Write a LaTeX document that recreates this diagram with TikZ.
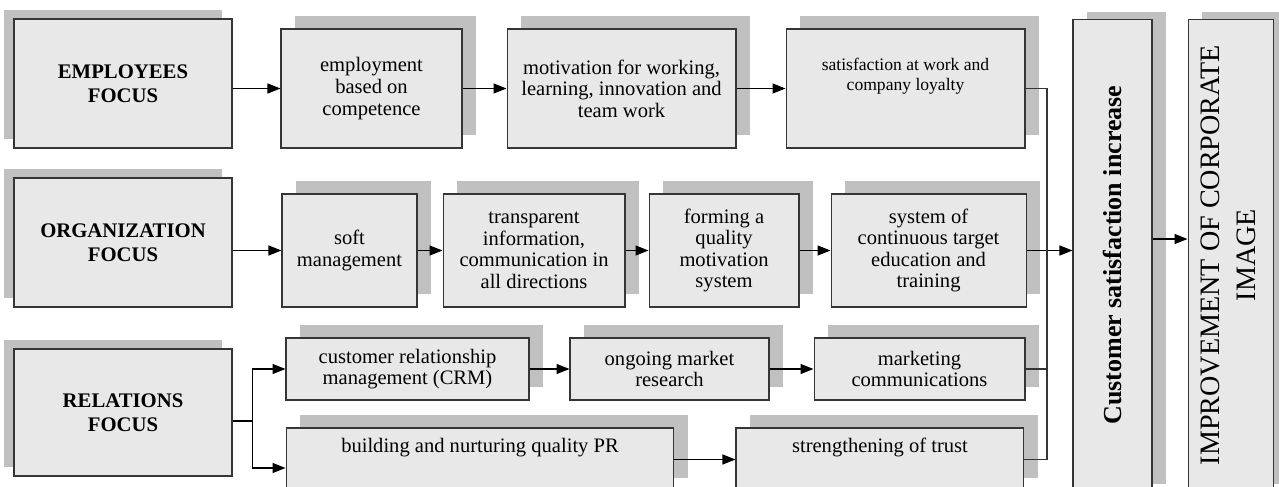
\documentclass[tikz,border=0pt]{standalone}
\usepackage{fontspec}
\usepackage{graphicx}
\setmainfont{Liberation Serif}
\usetikzlibrary{arrows.meta,positioning,shadows}
\definecolor{BoxFill}{HTML}{E8E8E8}
\definecolor{ShadowGray}{HTML}{C0C0C0}
\definecolor{EdgeGray}{HTML}{353535}

\begin{document}
\begin{tikzpicture}[x=0.02cm,y=-0.02cm,
  every node/.style={align=center,font=\fontsize{11.7}{12.3}\selectfont},
  focus/.style={draw=EdgeGray,fill=BoxFill,line width=0.6pt,minimum width=4.36cm,minimum height=2.58cm,inner sep=2pt,
    font=\fontsize{11.8}{13.8}\selectfont\bfseries,
    general shadow={fill=ShadowGray,shadow xshift=-0.2cm,shadow yshift=0.18cm}},
  stepbox/.style={draw=EdgeGray,fill=BoxFill,line width=0.6pt,inner sep=2pt,
    general shadow={fill=ShadowGray,shadow xshift=0.28cm,shadow yshift=#1}},
  stepbox/.default=0.26cm,
  arrow/.style={-{Triangle[length=2.6mm,width=2mm]},line width=0.7pt},
  link/.style={line width=0.6pt,draw=EdgeGray}
]
\useasboundingbox (0,0) rectangle (1279,487);

% three focus areas
\node[focus] (emp) at (123,83.5) {EMPLOYEES\\FOCUS};
\node[focus] (org) at (123,242.5) {ORGANIZATION\\FOCUS};
\node[focus,minimum height=2.54cm] (rel) at (123,412.5) {RELATIONS\\FOCUS};

% employees chain
\node[stepbox,minimum width=3.62cm,minimum height=2.38cm] (competence) at (371.5,88.5) {employment\\based on\\competence};
\node[stepbox,minimum width=4.58cm,minimum height=2.38cm,right=0.88cm of competence] (motivation) {motivation for working,\\learning, innovation and\\team work};
\node[stepbox,minimum width=4.78cm,minimum height=2.38cm,right=0.98cm of motivation,
  font=\fontsize{10}{11.4}\selectfont,text depth=0.55cm] (loyalty) {satisfaction at work and\\company loyalty};

% organization chain
\node[stepbox,minimum width=2.7cm,minimum height=2.26cm] (soft) at (349.5,250.5) {soft\\management};
\node[stepbox,minimum width=3.64cm,minimum height=2.26cm,right=0.5cm of soft] (transparent) {transparent\\information,\\communication in\\all directions};
\node[stepbox,minimum width=3.0cm,minimum height=2.26cm,right=0.46cm of transparent] (forming) {forming a\\quality\\motivation\\system};
\node[stepbox,minimum width=3.9cm,minimum height=2.26cm,right=0.62cm of forming] (training) {system of\\continuous target\\education and\\training};

% relations chains
\node[stepbox,minimum width=4.86cm,minimum height=1.24cm] (crm) at (407.5,369) {customer relationship\\management (CRM)};
\node[stepbox,minimum width=3.98cm,minimum height=1.24cm,right=0.8cm of crm] (research) {ongoing market\\research};
\node[stepbox,minimum width=4.22cm,minimum height=1.24cm,right=0.88cm of research] (marketing) {marketing\\communications};
\node[stepbox,minimum width=7.76cm,minimum height=1.26cm,text depth=0.55cm] (pr) at (480,459.5) {building and nurturing quality PR};
\node[stepbox,minimum width=5.76cm,minimum height=1.26cm,text depth=0.55cm,right=1.22cm of pr] (trust) {strengthening of trust};

% outcomes
\node[stepbox=0.14cm,minimum width=1.58cm,minimum height=9.44cm,font=\fontsize{14.8}{16}\selectfont\bfseries] (customer) at (1112.5,255)
  {\rotatebox{90}{Customer satisfaction increase}};
\node[stepbox=0.14cm,minimum width=1.7cm,minimum height=9.44cm,right=0.7cm of customer,font=\fontsize{16}{20}\selectfont] (image)
  {\rotatebox{90}{\begin{tabular}{@{}c@{}}IMPROVEMENT OF CORPORATE\\IMAGE\end{tabular}}};

% arrows
\draw[arrow] (emp.east |- competence) -- (competence.west);
\draw[arrow] (competence) -- (motivation);
\draw[arrow] (motivation) -- (loyalty);
\draw[arrow] (org.east |- soft) -- (soft.west);
\draw[arrow] (soft) -- (transparent);
\draw[arrow] (transparent) -- (forming);
\draw[arrow] (forming) -- (training);
\draw[arrow] (training.east) -- (training.east -| customer.west);
\draw[arrow] ([yshift=-0.17cm]rel.east) -- ++(0.4cm,0) coordinate (fork) |- (crm.west);
\draw[arrow] (fork) |- ([yshift=-0.17cm]pr.west);
\draw[arrow] (crm) -- (research);
\draw[arrow] (research) -- (marketing);
\draw[arrow] (pr) -- (trust);
\draw[arrow] ([yshift=0.32cm]customer.east) -- ([yshift=0.32cm]image.west);

% collecting line
\coordinate (bus) at (1047,88.5);
\draw[link] (loyalty.east) -- (bus) -- (bus |- trust.east) -- (trust.east);
\draw[link] (marketing.east) -- (marketing.east -| bus);
\end{tikzpicture}
\end{document}
